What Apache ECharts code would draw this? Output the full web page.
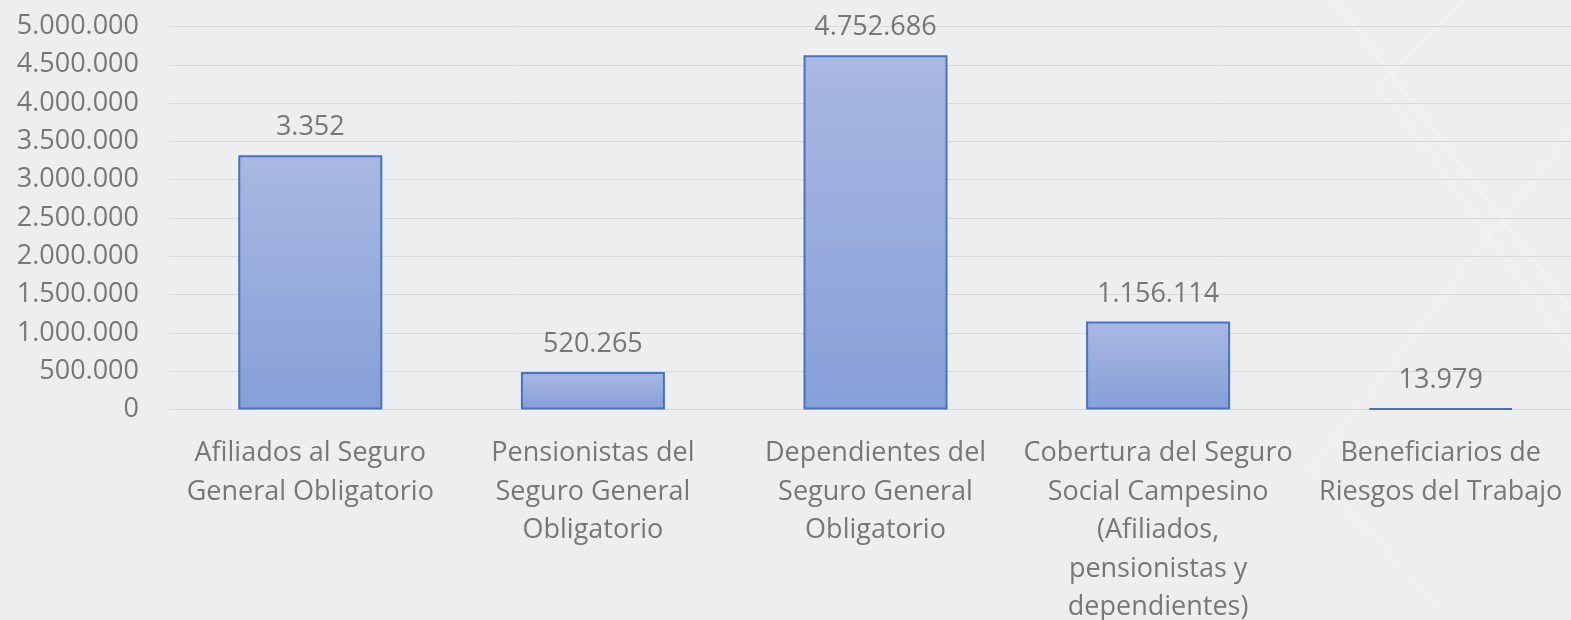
<!DOCTYPE html>
<html>
<head>
<meta charset="utf-8">
<script src="https://cdn.jsdelivr.net/npm/echarts@6/dist/echarts.min.js"></script>
<style>
    html, body { margin: 0; padding: 0; background: #edeef0; }
    #chart { width: 1571px; height: 620px; }
</style>
</head>
<body>
<div id="chart"></div>
<script>
// categorias del eje x (con los saltos de linea de la imagen)
var categorias = [
    'Afiliados al Seguro\nGeneral Obligatorio',
    'Pensionistas del\nSeguro General\nObligatorio',
    'Dependientes del\nSeguro General\nObligatorio',
    'Cobertura del Seguro\nSocial Campesino\n(Afiliados,\npensionistas y\ndependientes)',
    'Beneficiarios de\nRiesgos del Trabajo'
];
// alto de las barras
var valores = [3320000, 490000, 4625000, 1150000, 16000];
// etiquetas tal como aparecen sobre las barras
var etiquetas = ['3.352', '520.265', '4.752.686', '1.156.114', '13.979'];
// eje y
var yMin = 0, yMax = 5000000, yPaso = 500000;

var fuente = 'Open Sans';
var gris = '#777777';
var tam = 27;

var myChart = echarts.init(document.getElementById('chart'));

function linea(x1, y1, x2, y2, op) {
    return { type: 'line', silent: true, z: -1,
        shape: { x1: x1, y1: y1, x2: x2, y2: y2 },
        style: { stroke: '#ffffff', lineWidth: 1, opacity: op } };
}

var option = {
    backgroundColor: '#edeef0',
    animation: false,
    graphic: [
        // lineas blancas decorativas del fondo
        linea(1335, 0, 1571, 310, 0.55),
        linea(1465, 0, 1380, 85, 0.55),
        linea(1380, 85, 1571, 350, 0.4),
        linea(1571, 130, 1310, 470, 0.4),
        linea(1310, 470, 1450, 620, 0.35)
    ],
    grid: {
        left: 169,
        top: 26.5,
        width: 1413,
        height: 383,
        outerBoundsMode: 'none',
        containLabel: false
    },
    xAxis: {
        type: 'category',
        data: categorias,
        axisTick: { show: false },
        axisLine: { show: true, lineStyle: { color: '#d9d9d9', width: 1 } },
        axisLabel: {
            interval: 0,
            color: gris,
            fontFamily: fuente,
            fontSize: tam,
            lineHeight: 38.5,
            margin: 25
        }
    },
    yAxis: {
        type: 'value',
        min: yMin,
        max: yMax,
        interval: yPaso,
        axisLine: { show: false },
        axisTick: { show: false },
        splitLine: { lineStyle: { color: '#d9d9d9', width: 1 } },
        axisLabel: {
            color: gris,
            fontFamily: fuente,
            fontSize: tam,
            margin: 30,
            formatter: function (v) {
                return String(v).replace(/\B(?=(\d{3})+(?!\d))/g, '.');
            }
        }
    },
    series: [
        {
            type: 'bar',
            data: valores,
            barWidth: 144,
            itemStyle: {
                color: new echarts.graphic.LinearGradient(0, 0, 0, 1, [
                    { offset: 0, color: '#a9b8e2' },
                    { offset: 1, color: '#869fd8' }
                ]),
                borderColor: '#4472c4',
                borderWidth: 2
            },
            label: {
                show: true,
                position: 'top',
                distance: 14,
                color: gris,
                fontFamily: fuente,
                fontSize: tam,
                formatter: function (p) {
                    return etiquetas[p.dataIndex];
                }
            }
        }
    ]
};

myChart.setOption(option);
</script>
</body>
</html>
